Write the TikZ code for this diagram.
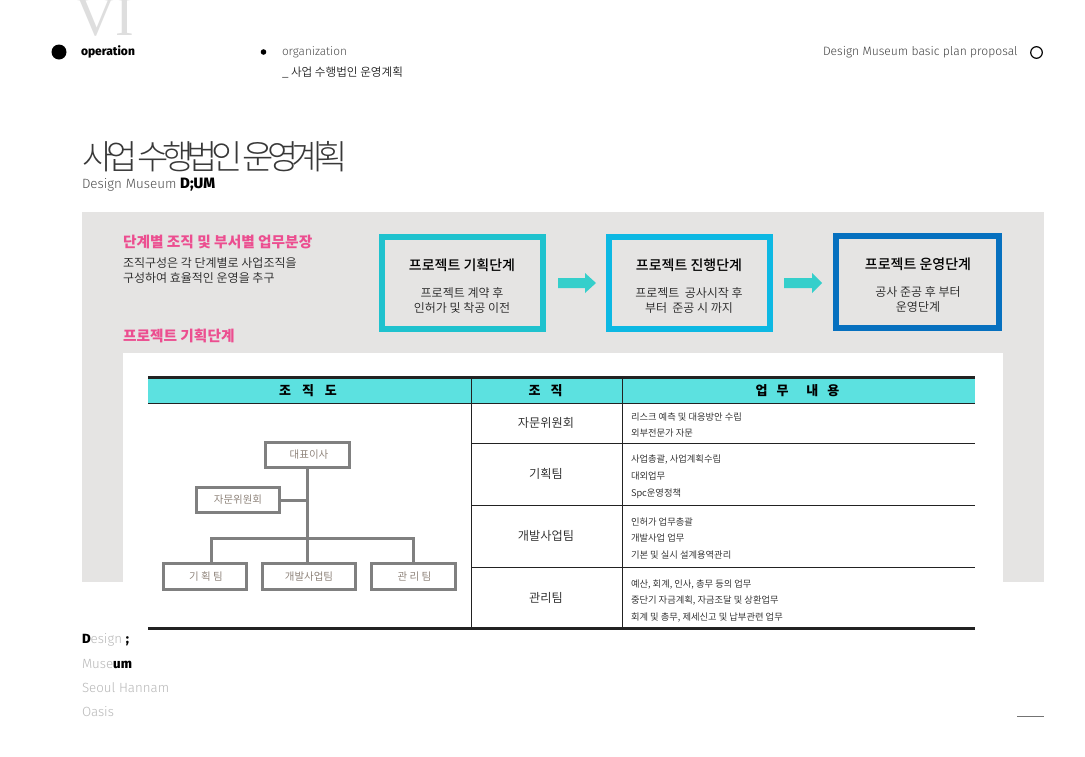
\documentclass[tikz,border=0pt]{standalone}
\usepackage{fontspec}
\setmainfont{Noto Sans CJK KR}
\newfontfamily\krl{Noto Sans CJK KR DemiLight}
\newfontfamily\krm{Noto Sans CJK KR Medium}
\newfontfamily\krtitle[LetterSpace=-20,WordSpace=0.2]{Noto Sans CJK KR Light}
\newfontfamily\din{Fira Sans Light}
\newfontfamily\dinb{Fira Sans}[BoldFont={Fira Sans ExtraBold}]
\newfontfamily\rom{Liberation Serif}
\newcommand{\fsz}[1]{\fontsize{#1}{#1}\selectfont}
\definecolor{bggray}{HTML}{E5E4E3}
\definecolor{boxa}{HTML}{1FC2CE}
\definecolor{boxb}{HTML}{0DB8E3}
\definecolor{boxc}{HTML}{0670BF}
\definecolor{arr}{HTML}{35CFCB}
\definecolor{hdr}{HTML}{5CE1E0}
\definecolor{pinkh}{HTML}{EC4E90}
\definecolor{orgl}{HTML}{808080}
\definecolor{orgt}{HTML}{85796F}
\definecolor{ink}{HTML}{222222}
\tikzset{
  lbl/.style={inner sep=0pt,outer sep=0pt,anchor=center},
  lft/.style={inner sep=0pt,outer sep=0pt,anchor=west},
  stage/.style={draw,line width=6pt,minimum width=161pt,minimum height=92pt,inner sep=0pt},
  stagetitle/.style={lbl,font=\krm\fsz{14},text=black,text height=11pt,text depth=2pt},
  stagesub/.style={lbl,font=\krl\fsz{12},text=ink,text height=10pt,text depth=2pt},
  pinkhead/.style={lft,font=\fsz{14.7}\bfseries,text=pinkh,text height=12pt,text depth=2pt},
  bodytext/.style={lft,font=\krl\fsz{12},text=ink,text height=10pt,text depth=2pt},
  thd/.style={lbl,font=\fsz{13}\bfseries,text=black,text height=11pt,text depth=2pt},
  orgname/.style={lbl,font=\krl\fsz{12.2},text=ink,text height=10pt,text depth=2pt},
  duty/.style={lft,font=\krl\fsz{9.3},text=ink,text height=8pt,text depth=1.6pt},
  orgbox/.style={draw=orgl,line width=3pt,fill=white,minimum height=25.5pt,inner sep=0pt,font=\krl\fsz{10.5},text=orgt},
  orgline/.style={draw=orgl,line width=3pt},
  foot/.style={lft,font=\din\fsz{13.3},text=black!28},
  blockarrow/.style={fill=arr,draw=none},
  tline/.style={draw=ink,line width=1pt},
  tthick/.style={draw=ink,line width=3pt},
}
\begin{document}
\begin{tikzpicture}[x=1pt,y=-1pt]
\useasboundingbox (0,0) rectangle (1085,756);
\fill[white] (0,0) rectangle (1085,756);
% header
\node[lbl,font=\rom\fsz{56},text=black!13,anchor=base] (vi) at (105,35) {VI};
\fill[black] (59,52) circle (7.5);
\node[lft,font=\dinb\fsz{12}\bfseries] (op) at (81,52) {operation};
\fill[black] (263.5,52) circle (2.8);
\node[lft,font=\din\fsz{11.8},text=black!70] (orgn) at (282,52) {organization};
\node[lft,font=\krl\fsz{11.6},text=ink] (orgk) at (282,72) {\_ 사업 수행법인 운영계획};
\node[lft,font=\din\fsz{12.1},text=black!75] (plan) at (823,52) {Design Museum basic plan proposal};
\draw[black,line width=1.2pt] (1036.5,52.5) circle (5.8);
% title
\node[lft,font=\krtitle\fsz{34},text=black!78] (title) at (82,157) {사업 수행법인 운영계획};
\node[lft,font=\din\fsz{13.4},text=black!70] (sub) at (82,185) {Design Museum {\dinb\bfseries\fsz{15}\textcolor{black}{D;UM}}};
% panels
\fill[bggray] (82,212) rectangle (1044,582);
\fill[white] (123,353) rectangle (1003,640);
% left text
\node[pinkhead] (ph) at (123,242) {단계별 조직 및 부서별 업무분장};
\node[bodytext] (d1) at (123,263) {조직구성은 각 단계별로 사업조직을};
\node[bodytext] (d2) at (123,278) {구성하여 효율적인 운영을 추구};
\node[pinkhead] (ph2) at (123,336) {프로젝트 기획단계};
% stage boxes
\node[stage,draw=boxa] (s1) at (462,283) {};
\node[stagetitle] (s1t) at (462,266) {프로젝트 기획단계};
\node[stagesub] (s1a) at (462,293) {프로젝트 계약 후};
\node[stagesub] (s1b) at (462,308) {인허가 및 착공 이전};
\node[stage,draw=boxb] (s2) at (689.5,283) {};
\node[stagetitle] (s2t) at (689,266) {프로젝트 진행단계};
\node[stagesub] (s2a) at (689,293) {프로젝트\ \ 공사시작 후};
\node[stagesub] (s2b) at (689,308) {부터\ \ 준공 시 까지};
\node[stage,draw=boxc,minimum width=163pt] (s3) at (917.5,282) {};
\node[stagetitle] (s3t) at (918,265) {프로젝트 운영단계};
\node[stagesub] (s3a) at (918,292) {공사 준공 후 부터};
\node[stagesub] (s3b) at (918,307) {운영단계};
% block arrows
\fill[blockarrow] (558,278) -- (585,278) -- (585,273) -- (596,283) -- (585,293) -- (585,288) -- (558,288) -- cycle;
\fill[blockarrow] (784,278) -- (812,278) -- (812,273) -- (822,283) -- (812,293) -- (812,288) -- (784,288) -- cycle;
% table
\fill[hdr] (148,378) rectangle (975,403);
\draw[tthick] (148,377.5) -- (975,377.5);
\draw[tthick] (148,628.8) -- (975,628.8);
\draw[tline] (148,403) -- (975,403);
\draw[tline] (471.5,376) -- (471.5,630);
\draw[tline] (622.5,376) -- (622.5,630);
\draw[tline] (471.5,443) -- (975,443);
\draw[tline] (471.5,505) -- (975,505);
\draw[tline] (471.5,567) -- (975,567);
\node[thd] (h1) at (308,391) {조\hspace{11pt}직\hspace{11pt}도};
\node[thd] (h2) at (545.5,391) {조\hspace{10pt}직};
\node[thd] (h3) at (797.5,391) {업\hspace{9pt}무\hspace{18pt}내\hspace{9pt}용};
\node[orgname] (r1) at (546,423.5) {자문위원회};
\node[orgname] (r2) at (546,474.5) {기획팀};
\node[orgname] (r3) at (546,536.5) {개발사업팀};
\node[orgname] (r4) at (546,598.5) {관리팀};
\node[duty] (a1) at (631,417.5) {리스크 예측 및 대응방안 수립};
\node[duty] (a2) at (631,433.5) {외부전문가 자문};
\node[duty] (b1) at (631,459.5) {사업총괄, 사업계획수립};
\node[duty] (b2) at (631,476.5) {대외업무};
\node[duty] (b3) at (631,493.5) {Spc운영정책};
\node[duty] (c1) at (631,522.5) {인허가 업무총괄};
\node[duty] (c2) at (631,538.5) {개발사업 업무};
\node[duty] (c3) at (631,555.5) {기본 및 실시 설계용역관리};
\node[duty] (e1) at (631,584.5) {예산, 회계, 인사, 총무 등의 업무};
\node[duty] (e2) at (631,600.5) {중단기 자금계획, 자금조달 및 상환업무};
\node[duty] (e3) at (631,617.5) {회계 및 총무, 제세신고 및 납부관련 업무};
% org chart
\node[orgbox,minimum width=84pt] (ceo) at (307.5,455) {\hspace{3pt}대표이사};
\node[orgbox,minimum width=83pt] (adv) at (238,500) {자문위원회};
\node[orgbox,minimum width=83pt] (pl) at (205,576.5) {\hspace{2pt}기 획 팀};
\node[orgbox,minimum width=93pt] (dev) at (309,576.5) {개발사업팀};
\node[orgbox,minimum width=84pt] (mg) at (413.5,576.5) {\hspace{2pt}관 리 팀};
\coordinate (tr) at (307,538);
\coordinate (bl) at (211,538);
\coordinate (br) at (413.5,538);
\draw[orgline] (ceo.south -| tr) -- (tr);
\draw[orgline] (adv.east) -- (adv.east -| tr);
\draw[orgline] (bl |- pl.north) -- (bl) -- (br) -- (br |- mg.north);
\draw[orgline] (tr) -- (tr |- dev.north);
% footer
\node[foot] (f1) at (82,640) {{\dinb\bfseries\textcolor{black}{D}}esign {\dinb\bfseries\textcolor{black}{;}}};
\node[foot] (f2) at (82,664) {Muse{\dinb\bfseries\textcolor{black}{um}}};
\node[foot] (f3) at (82,688) {Seoul Hannam};
\node[foot] (f4) at (82,712) {Oasis};
\draw[black!55,line width=0.8pt] (1017,716) -- (1044,716);
\end{tikzpicture}
\end{document}
